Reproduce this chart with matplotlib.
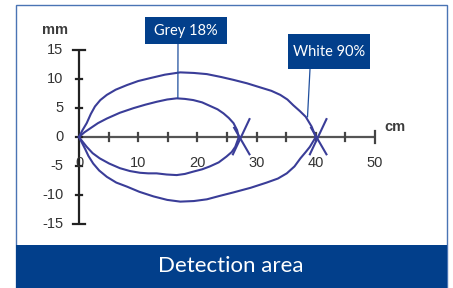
import matplotlib
matplotlib.use("Agg")
import matplotlib.pyplot as plt
from matplotlib.patches import Rectangle

# outer lobe (White 90%), cm / mm
white_up_x = [0, 0.6, 1.3, 2.0, 2.7, 3.6, 4.7, 6.2, 8.1, 10.0, 12.0, 14.5, 17.1, 19.4,
              21.6, 24.0, 26.1, 28.4, 30.6, 32.5, 34.0, 35.2, 36.2, 37.3, 38.3, 39.3, 40.0]
white_up_y = [0, 1.2, 2.4, 4.0, 5.3, 6.4, 7.3, 8.2, 9.0, 9.7, 10.2, 10.8, 11.2, 11.1,
              10.9, 10.4, 9.9, 9.3, 8.6, 8.0, 7.3, 6.5, 5.5, 4.5, 3.5, 1.8, 0]
white_lo_x = [0, 0.5, 1.0, 1.6, 2.4, 3.4, 4.7, 6.3, 8.1, 10.2, 12.6, 14.9, 17.1, 19.4,
              21.6, 23.8, 26.1, 29.0, 31.7, 33.6, 35.1, 36.4, 37.4, 38.3, 39.0, 40.0]
white_lo_y = [0, -1.0, -2.0, -3.3, -4.6, -5.8, -6.9, -7.9, -8.6, -9.5, -10.3, -10.9, -11.2, -11.1,
              -10.8, -10.2, -9.6, -8.8, -7.9, -7.2, -6.3, -5.1, -3.7, -2.6, -1.7, 0]

# inner lobe (Grey 18%)
grey_up_x = [0, 0.9, 1.9, 3.2, 4.7, 6.9, 9.2, 11.2, 13.1, 14.9, 16.5, 17.9, 19.3, 20.8,
             22.1, 23.4, 24.4, 25.3, 26.1, 26.7, 27.0]
grey_up_y = [0, 0.8, 1.5, 2.4, 3.2, 4.2, 5.0, 5.6, 6.1, 6.5, 6.7, 6.6, 6.4, 6.0,
             5.4, 4.8, 4.1, 3.3, 2.4, 1.2, 0]
grey_lo_x = [0, 0.6, 1.3, 2.3, 3.5, 5.1, 6.9, 8.6, 10.3, 11.7, 13.1, 14.8, 16.5, 17.9,
             19.3, 20.8, 22.1, 23.6, 24.9, 25.8, 26.4, 27.0]
grey_lo_y = [0, -0.8, -1.7, -2.8, -3.7, -4.6, -5.4, -5.9, -6.2, -6.3, -6.3, -6.5, -6.6, -6.4,
             -6.0, -5.6, -5.1, -4.4, -3.4, -2.6, -1.7, 0]

# range ends marked with a cross
range_ends = [27.0, 40.0]

x_ticks = [0, 5, 10, 15, 20, 25, 30, 35, 40, 45, 50]
x_labels = [0, 10, 20, 30, 40, 50]
y_ticks = [-15, -10, -5, 0, 5, 10, 15]

W, H = 453, 288
X0, Y0, SX, SY = 79, 137, 5.92, 5.77   # pixel of origin, px per cm / mm

def fx(px):
    return px / W

def fy(py):
    return 1 - py / H

curve = "#3a3d98"
dark_blue = "#023f8b"

fig = plt.figure(figsize=(W / 100, H / 100), dpi=100)
ax = fig.add_axes([0, 0, 1, 1])
ax.set_xlim(-X0 / SX, (W - X0) / SX)
ax.set_ylim((Y0 - H) / SY, Y0 / SY)
ax.axis("off")

# frame and caption band
fig.add_artist(Rectangle((fx(16), fy(288)), fx(447) - fx(16), fy(5) - fy(288),
                         transform=fig.transFigure, fill=False, ec="#4a74b4", lw=1))
fig.add_artist(Rectangle((fx(16), fy(288)), fx(447) - fx(16), fy(245) - fy(288),
                         transform=fig.transFigure, fc=dark_blue, ec="none"))
fig.text(fx(231), fy(266), "Detection area", color="white", fontsize=16,
         family="Lato", ha="center", va="center")

# axes drawn by hand
ax.plot([0, 50], [0, 0], color="#555555", lw=1.6, solid_capstyle="butt")
ax.plot([0, 0], [-15, 15], color="#222222", lw=1.6, solid_capstyle="butt")
for t in x_ticks[1:]:
    h = 1.0 if t == 50 else 0.7
    ax.plot([t, t], [-h, h], color="#444444", lw=1.6)
for t in y_ticks:
    w = 1.0 if abs(t) == 15 else 0.55
    ax.plot([-w, w], [t, t], color="#222222", lw=1.6)

tick_font = dict(family="Liberation Sans", fontsize=10.5, color="#333333")
for t in y_ticks:
    ax.text(-2.6, t, str(t), ha="right", va="center", **tick_font)
for t in x_labels:
    ax.text(t, -4.5, str(t), ha="center", va="center", **tick_font)
ax.text(-4.1, 18.6, "mm", ha="center", va="center", fontweight="bold",
        family="Liberation Sans", fontsize=10.5, color="#3c3c3c")
ax.text(53.3, 1.7, "cm", ha="center", va="center", fontweight="bold",
        family="Liberation Sans", fontsize=10.5, color="#3c3c3c")

# lobes
for xs, ys in [(white_up_x, white_up_y), (white_lo_x, white_lo_y),
               (grey_up_x, grey_up_y), (grey_lo_x, grey_lo_y)]:
    ax.plot(xs, ys, color=curve, lw=1.5, solid_joinstyle="round")
for r in range_ends:
    ax.plot([r - 1.0, r + 1.8], [-3.0, 3.1], color=curve, lw=1.5)
    ax.plot([r - 0.8, r + 1.8], [1.6, -3.0], color=curve, lw=1.5)

# labels with leader lines (box in pixels, leader top x in pixels, leader end in data)
boxes = [("Grey 18%", 145, 227, 17, 44, 178, 16.7, 6.8),
         ("White 90%", 288, 370, 34, 69, 310, 38.6, 3.5)]
for text, x1, x2, y1, y2, tx, lx, ly in boxes:
    fig.add_artist(Rectangle((fx(x1), fy(y2)), fx(x2) - fx(x1), fy(y1) - fy(y2),
                             transform=fig.transFigure, fc=dark_blue, ec="none"))
    fig.text(fx((x1 + x2) / 2), fy((y1 + y2) / 2), text, color="white",
             fontsize=10.5, family="Lato", ha="center", va="center")
    ax.plot([(tx - X0) / SX, lx], [(Y0 - y2) / SY, ly], color="#1f4f9e", lw=0.9)

fig.savefig("out.png", dpi=100)
